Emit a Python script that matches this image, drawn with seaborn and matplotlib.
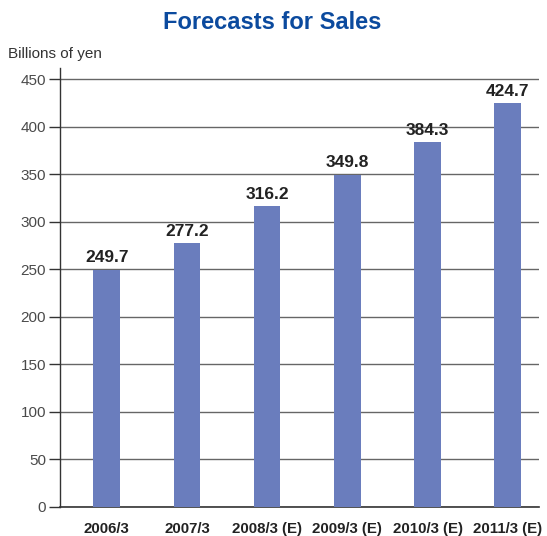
import matplotlib
matplotlib.use('Agg')
import matplotlib.pyplot as plt
import seaborn as sns
import pandas as pd
from matplotlib import font_manager

# Data
periods = ['2006/3', '2007/3', '2008/3 (E)', '2009/3 (E)', '2010/3 (E)', '2011/3 (E)']
sales = [249.7, 277.2, 316.2, 349.8, 384.3, 424.7]
y_ticks = [0, 50, 100, 150, 200, 250, 300, 350, 400, 450]

df = pd.DataFrame({'period': periods, 'sales': sales})

sns.set_theme(style='white')
plt.rcParams['font.family'] = ['Liberation Sans', 'DejaVu Sans']

installed = {f.name for f in font_manager.fontManager.ttflist}
narrow = 'Liberation Sans Narrow' if 'Liberation Sans Narrow' in installed else 'Liberation Sans'

fig = plt.figure(figsize=(5.47, 5.36), dpi=100)
ax = fig.add_axes([60 / 547, 1 - 506.7 / 536, (539 - 60) / 547, (506.7 - 68) / 536])

sns.barplot(data=df, x='period', y='sales', color='#6a7dbd', width=0.333,
            saturation=1, linewidth=0, ax=ax, zorder=3)

ax.set_xlim(-0.582, 5.39)
ax.set_ylim(0, 462)
ax.set_yticks(y_ticks)
ax.yaxis.grid(True, color='#666666', linewidth=1.0, zorder=0)
ax.xaxis.grid(False)
ax.set_axisbelow(True)

for side in ['top', 'right']:
    ax.spines[side].set_visible(False)
ax.spines['left'].set_color('#333333')
ax.spines['left'].set_linewidth(1.0)
ax.spines['bottom'].set_color('#333333')
ax.spines['bottom'].set_linewidth(1.2)

ax.tick_params(axis='y', length=8, width=1.0, color='#333333', pad=2,
               labelsize=11, labelcolor='#4a4a4a', left=True)
ax.tick_params(axis='x', length=0, pad=11, labelsize=10.8, labelcolor='#222222')
for lbl in ax.get_xticklabels():
    lbl.set_fontweight('bold')

ax.set_xlabel('')
ax.set_ylabel('')

# value labels above bars
for i, v in enumerate(sales):
    ax.annotate(f'{v:.1f}', (i, v), xytext=(0, 3), textcoords='offset points',
                ha='center', va='bottom', fontsize=12.5, fontweight='bold',
                color='#222222', family=narrow)

fig.text(272.5 / 547, 1 - 22.5 / 536, 'Forecasts for Sales', ha='center', va='center',
         fontsize=17, fontweight='bold', color='#0b4a9e')
fig.text(8 / 547, 1 - 58 / 536, 'Billions of yen', ha='left', va='baseline',
         fontsize=11, color='#333333')

fig.savefig('out.png', dpi=100)
plt.close('all')
